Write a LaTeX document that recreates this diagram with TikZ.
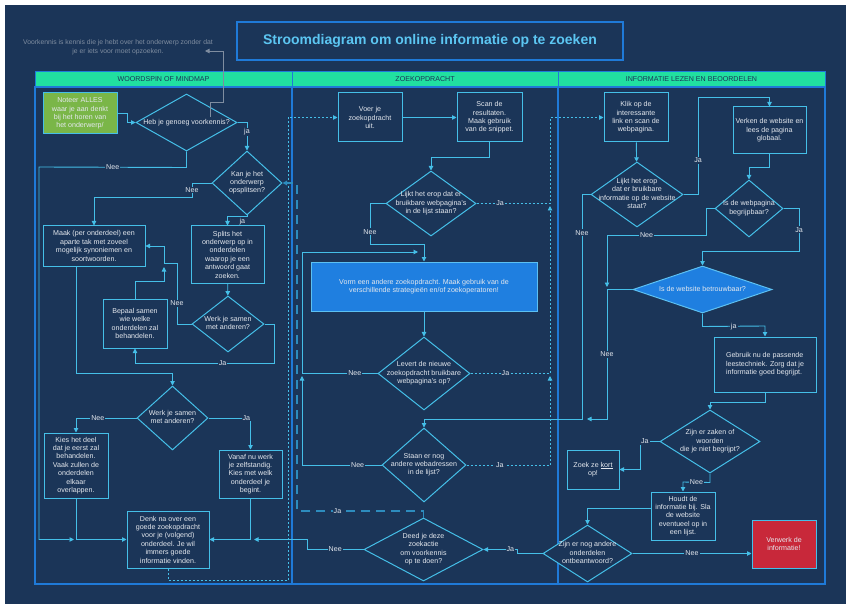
\documentclass[tikz,border=0pt]{standalone}
\usepackage{fontspec}
\setmainfont{Liberation Sans}
\usepackage{tikz}
\usetikzlibrary{arrows.meta,shapes.geometric,calc}
\usepackage{xcolor}

\definecolor{navy}{HTML}{1B3558}
\definecolor{lijn}{HTML}{45BFE8}
\definecolor{baan}{HTML}{1F7AD8}
\definecolor{munt}{HTML}{21E0A0}
\definecolor{tekst}{HTML}{E4E8EE}
\definecolor{grijs}{HTML}{7F8DA0}
\definecolor{vlak}{HTML}{1F7FE0}
\definecolor{vlakrand}{HTML}{5CC0F2}
\definecolor{gras}{HTML}{7AB648}
\definecolor{rood}{HTML}{C8283A}
\definecolor{streep}{HTML}{2D8CBE}
\definecolor{titel}{HTML}{5CC6F2}

\newcommand{\dtext}[1]{\makebox[0pt]{\smash{\raisebox{-1.6pt}{\begin{tabular}{@{}c@{}}#1\end{tabular}}}}}

\begin{document}
\begin{tikzpicture}[
    x=1pt, y=-1pt,
    font=\fontsize{7.1}{8.4}\selectfont,
    sz/.style 2 args={minimum width=#1pt, minimum height=#2pt},
    box/.style={draw=lijn, line width=1pt, fill=navy, text=tekst, align=center, inner sep=2pt},
    dec/.style={diamond, draw=lijn, line width=1pt, fill=navy, text=tekst, inner sep=0pt},
    kop/.style={draw=baan, fill=munt, line width=1pt, text=navy, minimum height=15pt, inner sep=0pt},
    baanlijn/.style={draw=baan, line width=1.2pt},
    arr/.style={-{Triangle[length=4.5pt,width=4.5pt]}, draw=lijn, line width=.9pt},
    stip/.style={arr, dash pattern=on 2pt off 2pt},
    lang/.style={arr, draw=streep, line width=1.3pt, dash pattern=on 9pt off 6pt},
    grijsarr/.style={-{Triangle[length=4.5pt,width=4.5pt]}, draw=grijs, line width=.9pt},
    lab/.style={fill=navy, text=tekst, inner sep=1pt}
  ]
    \useasboundingbox (0,0) rectangle (846,604);
    \fill[white] (0,0) rectangle (846,604);
    \fill[navy] (5,5) rectangle (846,604);

    \node[draw=baan, line width=1.2pt, sz={386}{38}, text=titel, font=\fontsize{14}{16}\selectfont\bfseries] (titel) at (430,41) {Stroomdiagram om online informatie op te zoeken};
    \node[text=grijs, align=center, font=\fontsize{6.8}{9}\selectfont] (voork) at (118,47.5) {Voorkennis is kennis die je hebt over het onderwerp zonder dat\\je er iets voor moet opzoeken.};

    \draw[baanlijn] (35,87) rectangle (292,584);
    \draw[baanlijn] (292,87) rectangle (558,584);
    \draw[baanlijn] (558,87) rectangle (825,584);
    \node[kop, minimum width=257pt] (kop1) at (163.5,79.5) {WOORDSPIN OF MINDMAP};
    \node[kop, minimum width=266pt] (kop2) at (425,79.5) {ZOEKOPDRACHT};
    \node[kop, minimum width=267pt] (kop3) at (691.5,79.5) {INFORMATIE LEZEN EN BEOORDELEN};

    \node[box, fill=gras, sz={74}{41}] (noteer) at (80,113.5) {Noteer ALLES\\waar je aan denkt\\bij het horen van\\het onderwerp/};
    \node[dec, sz={101}{57}] (heb) at (186.5,122.5) {\dtext{Heb je genoeg voorkennis?}};
    \node[dec, sz={70}{64}] (kan) at (247,183) {\dtext{Kan je het\\onderwerp\\opsplitsen?}};
    \node[box, sz={102}{40}] (maak) at (94,246) {Maak (per onderdeel) een\\aparte tak met zoveel\\mogelijk synoniemen en\\soortwoorden.};
    \node[box, sz={73}{57}] (splits) at (227.5,254.5) {Splits het\\onderwerp op in\\onderdelen\\waarop je een\\antwoord gaat\\zoeken.};
    \node[dec, sz={72}{56}] (werk1) at (228,324) {\dtext{Werk je samen\\met anderen?}};
    \node[box, sz={64}{49}] (bepaal) at (135,323.5) {Bepaal samen\\wie welke\\onderdelen zal\\behandelen.};
    \node[dec, sz={71}{64}] (werk2) at (172.5,418) {\dtext{Werk je samen\\met anderen?}};
    \node[box, sz={64}{65}] (kies) at (76,465.5) {Kies het deel\\dat je eerst zal\\behandelen.\\Vaak zullen de\\onderdelen\\elkaar\\overlappen.};
    \node[box, sz={63}{48}] (vanaf) at (250.5,474) {Vanaf nu werk\\je zelfstandig.\\Kies met welk\\onderdeel je\\begint.};
    \node[box, sz={82}{57}] (denk) at (168,539.5) {Denk na over een\\goede zoekopdracht\\voor je (volgend)\\onderdeel. Je wil\\immers goede\\informatie vinden.};

    \node[box, sz={64}{49}] (voer) at (370,117.5) {Voer je\\zoekopdracht\\uit.};
    \node[box, sz={65}{49}] (scan) at (489.5,117.5) {Scan de\\resultaten.\\Maak gebruik\\van de snippet.};
    \node[dec, sz={90}{65}] (lijkt) at (431,203.5) {\dtext{Lijkt het erop dat er\\bruikbare webpagina's\\in de lijst staan?}};
    \node[box, fill=vlak, draw=vlakrand, sz={226}{49}] (vorm) at (424,286.5) {Vorm een andere zoekopdracht. Maak gebruik van de\\verschillende strategieën en/of zoekoperatoren!};
    \node[dec, sz={92}{73}] (levert) at (424,373.5) {\dtext{Levert de nieuwe\\zoekopdracht bruikbare\\webpagina's op?}};
    \node[dec, sz={84}{74}] (staan) at (424,465) {\dtext{Staan er nog\\andere webadressen\\in de lijst?}};
    \node[dec, sz={119}{63}] (deed) at (423.5,549.5) {\dtext{Deed je deze\\zoekactie\\om voorkennis\\op te doen?}};

    \node[box, sz={64}{49}] (klik) at (636,117.5) {Klik op de\\interessante\\link en scan de\\webpagina.};
    \node[dec, sz={92}{65}] (lijkt2) at (637,194.5) {\dtext{Lijkt het erop\\dat er bruikbare\\informatie op de website\\staat?}};
    \node[box, sz={73}{47}] (verken) at (769.5,130.5) {Verken de website en\\lees de pagina\\globaal.};
    \node[dec, sz={68}{57}] (webpag) at (749,208.5) {\dtext{Is de webpagina\\begrijpbaar?}};
    \node[dec, fill=vlak, draw=vlakrand, sz={139}{47}] (betrouw) at (702.5,289.5) {\dtext{Is de website betrouwbaar?}};
    \node[box, align=left, sz={102}{55}] (gebruik) at (765,364.5) {Gebruik nu de passende\\leestechniek. Zorg dat je\\informatie goed begrijpt.};
    \node[dec, sz={100}{63}] (zijn1) at (710,441.5) {\dtext{Zijn er zaken of\\woorden\\die je niet begrijpt?}};
    \node[box, sz={52}{39}] (zoek) at (593,469.5) {Zoek ze \underline{kort}\\op!};
    \node[box, sz={64}{48}] (houdt) at (683,516) {Houdt de\\informatie bij. Sla\\de website\\eventueel op in\\een lijst.};
    \node[dec, sz={89}{57}] (zijn2) at (587.5,553.5) {\dtext{Zijn er nog andere\\onderdelen\\ontbeantwoord?}};
    \node[box, fill=rood, sz={64}{48}] (verwerk) at (784,544) {Verwerk de\\informatie!};

    \coordinate (vkpt) at (210,117);
    \coordinate (vkend) at (205,51);
    \coordinate (j1) at (74,539.5);
    \coordinate (j2) at (164,267);
    \coordinate (j3) at (254,539.5);
    \coordinate (j4) at (418,252);

    \draw[grijsarr] (vkpt) -- (210,102) -| (223,51) -- (vkend);

    \draw[arr] (noteer.east) -- ++(10,0) |- (heb.west);
    \draw[arr] (heb.east) -| node[lab, pos=.67] {ja} (kan.north);
    \draw[arr] (heb.south) -- ++(0,16) -- node[lab] {Nee} (39,167) -- (39,539.5) -- (j1);
    \draw[arr] (kan.west) -- (192,183) -- node[lab] {Nee} (192,197) -| (maak.north);
    \draw[arr] (kan.south) -- ++(0,1) -| node[pos=.12, below=1pt, text=tekst, inner sep=0pt] {ja} (splits.north);
    \draw[arr] (splits) -- (werk1);
    \draw[arr] (werk1.west) -- (177,324) -- node[lab, pos=.34] {Nee} (177,263) -- (164,263) |- (maak.east);
    \draw[arr] (bepaal.north) |- (164,281) -- (j2);
    \draw[arr] (werk1.east) -- (274,324) -- (274,363) -- node[lab, pos=.37] {Ja} (135,363) -- (bepaal.south);
    \draw[arr] ([xshift=-18pt]maak.south) |- (172.5,373) -- (werk2.north);
    \draw[arr] (werk2.west) -| node[lab, pos=.32] {Nee} (kies.north);
    \draw[arr] (werk2.east) -| node[lab, pos=.45] {Ja} (vanaf.north);
    \draw[arr] (kies.south) |- (denk.west);
    \draw[arr] (vanaf.south) |- (denk.east);
    \draw[arr] (deed.west) -- node[lab] {Nee} (307,549.5) -- (307,539.5) -- (j3);
    \draw[stip] (denk.south) -- (168,580) -| (288,117.5) -- (voer.west);
    \draw[lang] (deed.north) -- (423.5,511) -- node[lab, pos=.68] {Ja} (297,511) -- (297,183) -- (kan.east);

    \draw[arr] (voer) -- (scan);
    \draw[arr] (scan.south) -- ++(0,15) -| (lijkt.north);
    \draw[stip] (lijkt.east) -| node[lab, pos=.16] {Ja} (550,117.5) -- (klik.west);
    \draw[arr] (lijkt.west) -- (370,203.5) -- node[lab, pos=.7] {Nee} (370,244) -| (vorm.north);
    \draw[arr] (vorm) -- (levert);
    \draw[stip] (levert.east) -| node[lab, pos=.22] {Ja} (550,206);
    \draw[arr] (levert.west) -| node[lab, pos=.15] {Nee} (302,252) -- (j4);
    \draw[stip] (staan.east) -| node[lab, pos=.2] {Ja} (550,376);
    \draw[arr] (staan.west) -| node[lab, pos=.15] {Nee} (302,376);

    \draw[arr] (klik) -- (lijkt2);
    \draw[arr] (lijkt2.east) -- (698,194.5) -- node[lab, pos=.35] {Ja} (698,97) -| (verken.north);
    \draw[arr] (lijkt2.west) -- (582,194.5) -- node[lab, pos=.17] {Nee} (582,419) -| (staan.north);
    \draw[arr] (verken.south) -- ++(0,13) -| (webpag.north);
    \draw[arr] (webpag.west) -- (706,208.5) -- (706,235) -- node[lab, pos=.6] {Nee} (607,235) -- (607,287);
    \draw[arr] (webpag.east) -- (799,208.5) -- node[lab] {Ja} (799,251) -| (betrouw.north);
    \draw[arr] (betrouw.south) -- ++(0,13) -- node[lab] {ja} (765,326) -- (gebruik.north);
    \draw[arr] (betrouw.west) -- (607,289.5) -- node[lab] {Nee} (607,419) -- (587,419);
    \draw[arr] (gebruik.south) -- ++(0,10) -| (zijn1.north);
    \draw[arr] (zijn1.west) -- node[lab, pos=.75] {Ja} (640,441.5) |- (zoek.east);
    \draw[arr] (zijn1.south) -- ++(0,9) -- node[lab] {Nee} (683,482) -- (houdt.north);
    \draw[arr] ([yshift=8pt]houdt.west) -| (zijn2.north);
    \draw[arr] (zijn2.east) -- node[lab] {Nee} (zijn2.east -| verwerk.west);
    \draw[arr] (zijn2.west) -- (517,553.5) |- node[lab, pos=.6] {Ja} (deed.east);
  \end{tikzpicture}
\end{document}
